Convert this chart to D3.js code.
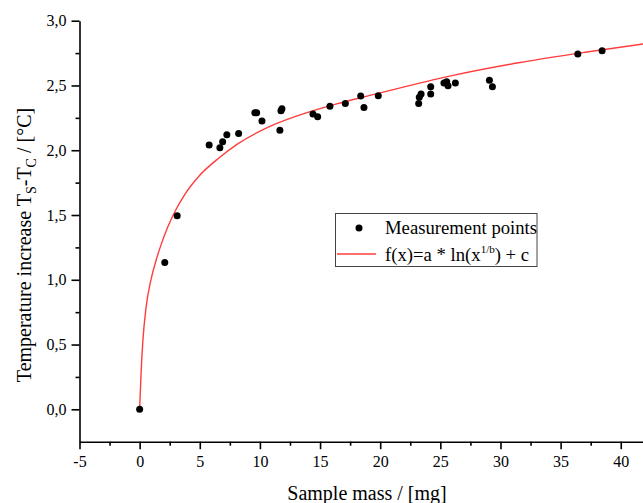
<!DOCTYPE html>
<html>
<head>
<meta charset="utf-8">
<script src="https://cdn.jsdelivr.net/npm/d3@7"></script>
<style>
  html, body { margin: 0; padding: 0; background: #fff; }
  svg { display: block; }
  text { font-family: "Liberation Serif", "Times New Roman", serif; fill: #000; }
</style>
</head>
<body>
<svg id="chart" width="643" height="503"></svg>
<script>
// Measured temperature rise versus sample mass
const massMg = [0, 2.09, 3.12, 5.78, 6.67, 6.9, 7.25, 8.23, 9.58, 9.73, 10.17, 11.66, 11.75, 11.83,
  14.41, 14.8, 15.82, 17.1, 18.38, 18.65, 19.84, 23.2, 23.25, 23.4, 24.2, 24.2, 25.3, 25.53, 25.64,
  26.25, 29.08, 29.33, 36.43, 38.45];
const tempRise = [0, 1.134, 1.494, 2.04, 2.02, 2.065, 2.12, 2.13, 2.29, 2.29, 2.225, 2.155, 2.305, 2.32,
  2.279, 2.258, 2.339, 2.36, 2.418, 2.33, 2.42, 2.36, 2.41, 2.435, 2.49, 2.435, 2.52, 2.528, 2.497,
  2.52, 2.54, 2.49, 2.743, 2.768];

// Logarithmic fit curve f(x) = a * ln(x^(1/b)) + c, sampled along x
const fitX = [0, 0.12, 0.27, 0.54, 0.93, 1.37, 1.82, 2.32, 2.99, 3.76, 4.87, 6.59, 8.06, 10.83, 13.6,
  16.38, 19.15, 26.08, 31.63, 37.18, 41.86];
const fitY = [0, 0.28, 0.53, 0.79, 0.996, 1.151, 1.281, 1.404, 1.537, 1.66, 1.794, 1.94, 2.043, 2.184,
  2.281, 2.358, 2.423, 2.578, 2.677, 2.758, 2.82];

const xMajor = [-5, 0, 5, 10, 15, 20, 25, 30, 35, 40];
const xMinor = [-2.5, 2.5, 7.5, 12.5, 17.5, 22.5, 27.5, 32.5, 37.5];
const yMajor = [0, 0.5, 1, 1.5, 2, 2.5, 3];
const yMinor = [0.25, 0.75, 1.25, 1.75, 2.25, 2.75];

const legendLabels = ["Measurement points", "f(x)=a * ln(x", "1/b", ") + c"];

const svg = d3.select("#chart");
const x = d3.scaleLinear().domain([-5, 41.85]).range([79.5, 643]);
const y = d3.scaleLinear().domain([-0.25, 3.0]).range([441.7, 20.7]);

const red = "#ff3d3d";

// Fit curve
const pts = fitX.map((v, i) => [v, fitY[i]]);
svg.append("path")
  .datum(pts)
  .attr("fill", "none")
  .attr("stroke", red)
  .attr("stroke-width", 1.4)
  .attr("d", d3.line().x(d => x(d[0])).y(d => y(d[1])).curve(d3.curveMonotoneX));

// Measurement points
svg.append("g").selectAll("circle")
  .data(massMg.map((m, i) => [m, tempRise[i]]))
  .join("circle")
  .attr("cx", d => x(d[0]))
  .attr("cy", d => y(d[1]))
  .attr("r", 3.5)
  .attr("fill", "#000");

// Axes
function styleAxis(g) {
  g.selectAll(".domain").attr("stroke", "#000").attr("stroke-width", 1.6);
  g.selectAll(".tick line").attr("stroke", "#000").attr("stroke-width", 1.6);
  g.selectAll("text").attr("font-family", "Liberation Serif").attr("font-size", 16).attr("fill", "#000");
}

const xAxisG = svg.append("g").attr("transform", `translate(0,${y(-0.25)})`);
xAxisG.call(d3.axisBottom(x).tickValues(xMinor).tickSize(4).tickSizeOuter(0).tickFormat(""));
xAxisG.append("g").call(d3.axisBottom(x).tickValues(xMajor).tickSize(7.5).tickSizeOuter(0)
  .tickPadding(6).tickFormat(d => String(d)));
xAxisG.selectAll(".domain").filter((d, i) => i > 0).remove();
styleAxis(xAxisG);

const yAxisG = svg.append("g").attr("transform", `translate(${x(-5)},0)`);
yAxisG.call(d3.axisLeft(y).tickValues(yMinor).tickSize(4).tickSizeOuter(0).tickFormat(""));
yAxisG.append("g").call(d3.axisLeft(y).tickValues(yMajor).tickSize(8).tickSizeOuter(0)
  .tickPadding(5).tickFormat(d => d3.format(".1f")(d).replace(".", ",")));
yAxisG.selectAll(".domain").filter((d, i) => i > 0).remove();
styleAxis(yAxisG);

// Axis titles
svg.append("text")
  .attr("x", 367).attr("y", 500)
  .attr("text-anchor", "middle")
  .attr("font-size", 20)
  .text("Sample mass / [mg]");

const yt = svg.append("text")
  .attr("transform", "translate(31,245) rotate(-90)")
  .attr("text-anchor", "middle")
  .attr("font-size", 20);
yt.append("tspan").text("Temperature increase T");
yt.append("tspan").attr("font-size", 14).attr("dy", 5).text("S");
yt.append("tspan").attr("dy", -5).text("-T");
yt.append("tspan").attr("font-size", 14).attr("dy", 5).text("C");
yt.append("tspan").attr("dy", -5).text(" / [°C]");

// Legend
const lg = svg.append("g");
lg.append("rect")
  .attr("x", 335.5).attr("y", 213.5).attr("width", 201.5).attr("height", 53)
  .attr("fill", "#fff").attr("stroke", "#444").attr("stroke-width", 1);
lg.append("circle").attr("cx", 359).attr("cy", 228).attr("r", 3.5).attr("fill", "#000");
lg.append("text").attr("x", 385).attr("y", 234).attr("font-size", 18.7).text(legendLabels[0]);
lg.append("line").attr("x1", 337).attr("x2", 376).attr("y1", 254).attr("y2", 254)
  .attr("stroke", red).attr("stroke-width", 1.4);
const lt = lg.append("text").attr("x", 385).attr("y", 261).attr("font-size", 18.7);
lt.append("tspan").text(legendLabels[1]);
lt.append("tspan").attr("font-size", 11).attr("dy", -8).text(legendLabels[2]);
lt.append("tspan").attr("dy", 8).text(legendLabels[3]);
</script>
</body>
</html>
